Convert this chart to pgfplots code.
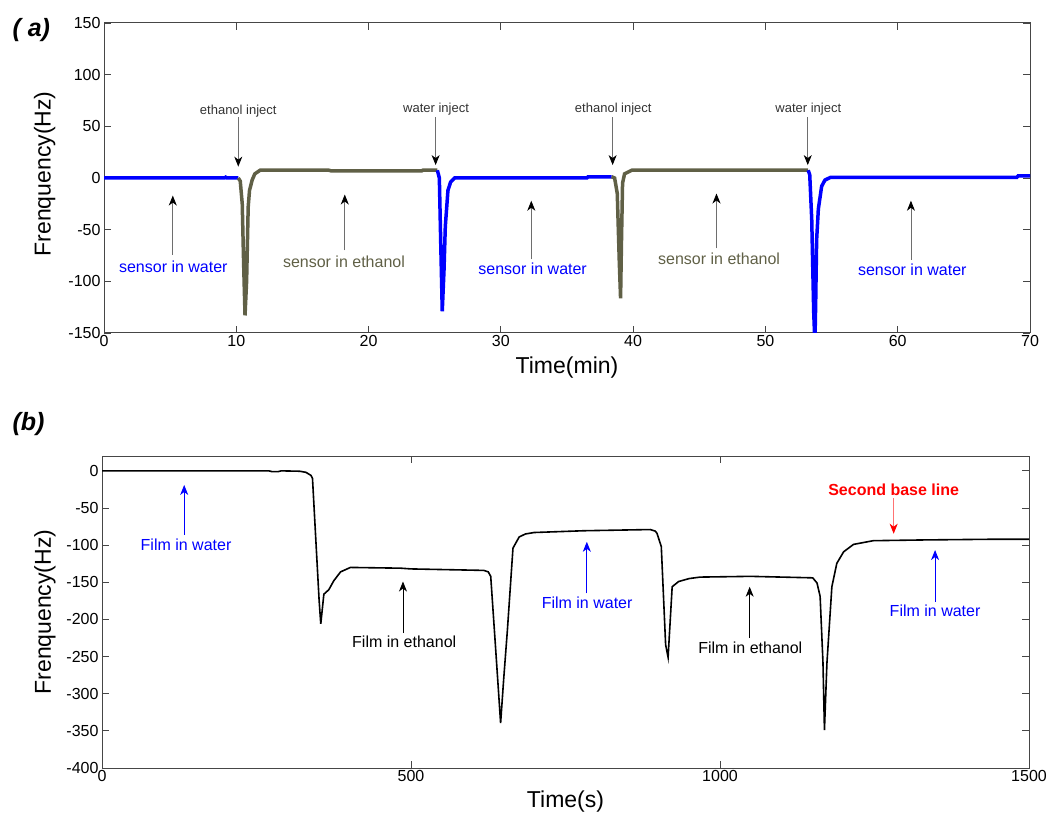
\documentclass[border=0pt]{standalone}
\usepackage{fontspec}
\setmainfont{Liberation Sans}
\usepackage{pgfplots}
\pgfplotsset{compat=1.18}
\usetikzlibrary{arrows.meta}
\definecolor{olivel}{RGB}{96,96,70}
\definecolor{framegray}{RGB}{70,70,70}
\definecolor{arrgray}{RGB}{110,110,110}
\begin{document}
\begin{tikzpicture}
\useasboundingbox (0,0) rectangle (1048pt,817pt);
\pgfplotsset{
  mystyle/.style={
    scale only axis,
    axis line style={framegray, line width=1pt},
    tick style={framegray, line width=0.8pt},
    major tick length=7pt,
    tick align=inside,
    scaled ticks=false,
    /pgf/number format/assume math mode=true,
    /pgf/number format/1000 sep={},
    ticklabel style={font=\fontsize{16}{19}\selectfont, text=black},
    label style={font=\fontsize{23}{27}\selectfont},
    xticklabel style={inner sep=2.5pt},
  }
}
\begin{axis}[mystyle, at={(104pt,484pt)}, anchor=south west,
  width=926pt, height=310pt,
  xmin=0, xmax=70, ymin=-150, ymax=150,
  xtick={0,10,...,70}, ytick={-150,-100,...,150},
  xlabel={Time(min)}, ylabel={Frenquency(Hz)},
  xlabel style={at={(axis description cs:0.5,-0.11)}, anchor=center},
  ylabel style={at={(axis description cs:-0.064,0.513)}, anchor=center}]
% water segments
\addplot[blue, line width=3.5pt] coordinates {(0,0) (9.1,0) (9.2,0.8) (9.3,0) (10.15,0)};
\addplot[olivel, line width=3.5pt] coordinates {(10.15,0) (10.3,-3) (10.45,-25) (10.55,-80) (10.66,-133) (10.78,-100) (10.9,-28) (11.0,-12) (11.2,-2) (11.4,4) (11.8,7.5) (17,7.5) (17.2,6.8) (24,6.8) (24.1,7.5) (25.2,7.5)};
\addplot[blue, line width=3.5pt] coordinates {(25.2,7.5) (25.35,0) (25.45,-60) (25.57,-129) (25.7,-90) (25.8,-47) (26.0,-12) (26.2,-4) (26.5,0) (36.5,0) (36.6,1.2) (38.37,1.2)};
\addplot[olivel, line width=3.5pt] coordinates {(38.37,1.2) (38.6,0) (38.8,-15) (38.95,-80) (39.05,-116.5) (39.12,-60) (39.2,-5) (39.35,4) (39.9,7.5) (53.23,7.5)};
\addplot[blue, line width=3.5pt] coordinates {(53.23,7.5) (53.35,3) (53.5,-40) (53.65,-130) (53.74,-160) (53.8,-120) (53.87,-60) (54.0,-30) (54.25,-8) (54.5,-2) (54.9,0.5) (69,0.5) (69.1,2) (70,2)};
% annotations
\tikzset{ann/.style={line width=0.9pt, arrgray, -{Stealth[black, length=10pt, width=8pt, inset=3pt]}}}
\node[font=\fontsize{13}{15}\selectfont, text=black!80] at (axis cs:10.15,65) {ethanol inject};
\draw[ann] (axis cs:10.15,59) -- (axis cs:10.15,11);
\node[font=\fontsize{13}{15}\selectfont, text=black!80] at (axis cs:25.1,66.5) {water inject};
\draw[ann] (axis cs:25.07,59) -- (axis cs:25.07,12.5);
\node[font=\fontsize{13}{15}\selectfont, text=black!80] at (axis cs:38.5,66.5) {ethanol inject};
\draw[ann] (axis cs:38.45,59) -- (axis cs:38.45,12.5);
\node[font=\fontsize{13}{15}\selectfont, text=black!80] at (axis cs:53.24,66.5) {water inject};
\draw[ann] (axis cs:53.2,59) -- (axis cs:53.2,12.5);
\node[font=\fontsize{16}{19}\selectfont, text=blue] at (axis cs:5.24,-86) {sensor in water};
\draw[ann] (axis cs:5.2,-74.5) -- (axis cs:5.2,-17);
\node[font=\fontsize{16}{19}\selectfont, text=olivel] at (axis cs:18.14,-81) {sensor in ethanol};
\draw[ann] (axis cs:18.2,-70) -- (axis cs:18.2,-16);
\node[font=\fontsize{16}{19}\selectfont, text=blue] at (axis cs:32.4,-87.4) {sensor in water};
\draw[ann] (axis cs:32.3,-78.7) -- (axis cs:32.3,-22);
\node[font=\fontsize{16}{19}\selectfont, text=olivel] at (axis cs:46.5,-78) {sensor in ethanol};
\draw[ann] (axis cs:46.3,-68) -- (axis cs:46.3,-15);
\node[font=\fontsize{16}{19}\selectfont, text=blue] at (axis cs:61.1,-89) {sensor in water};
\draw[ann] (axis cs:61.0,-79) -- (axis cs:61.0,-22);
\end{axis}

\begin{axis}[mystyle, at={(102pt,49pt)}, anchor=south west,
  width=927pt, height=312pt,
  xmin=0, xmax=1500, ymin=-400, ymax=20,
  xtick={0,500,1000,1500}, ytick={-400,-350,...,0},
  xlabel={Time(s)}, ylabel={Frenquency(Hz)},
  xlabel style={at={(axis description cs:0.5,-0.108)}, anchor=center},
  ylabel style={at={(axis description cs:-0.0615,0.5)}, anchor=center}]
\addplot[black, line width=1.6pt] coordinates {(0,0) (270,0) (275,-1) (285,-1) (290,0) (320,-0.5) (330,-2) (338,-6) (340.6,-10) (346,-93) (351.3,-174) (354,-206) (359,-166) (367,-160) (375,-148) (386,-136) (402,-130) (483,-131) (500,-132) (618,-134) (625,-136) (629,-142) (637,-240) (645,-339.5) (650,-280) (656,-214) (665,-104) (675,-89) (685,-85) (699,-83) (780,-80.6) (887,-79) (895,-81) (898,-84) (905,-102) (912,-234) (916,-251) (922.6,-156) (933,-149) (950,-145) (968,-143) (1049,-142) (1150,-144) (1157,-151) (1162,-169) (1166.6,-258) (1169,-349) (1173,-259) (1181,-156) (1189,-124.5) (1200,-109) (1216,-99) (1248,-94) (1329,-93) (1448,-92) (1500,-92)};
\tikzset{annb/.style={line width=0.9pt, -{Stealth[length=10pt, width=8pt, inset=3pt]}}}
\node[font=\fontsize{16}{19}\selectfont, text=blue] at (axis cs:136,-100) {Film in water};
\draw[annb, blue] (axis cs:133,-86) -- (axis cs:133,-19);
\node[font=\fontsize{16}{19}\selectfont, text=black] at (axis cs:489,-230.6) {Film in ethanol};
\draw[annb, black] (axis cs:487,-218.5) -- (axis cs:487,-149);
\node[font=\fontsize{16}{19}\selectfont, text=blue] at (axis cs:785,-177) {Film in water};
\draw[annb, blue] (axis cs:784.5,-165) -- (axis cs:784.5,-95.5);
\node[font=\fontsize{16}{19}\selectfont, text=black] at (axis cs:1049,-238.7) {Film in ethanol};
\draw[annb, black] (axis cs:1048,-225) -- (axis cs:1048,-156);
\node[font=\fontsize{16}{19}\selectfont, text=blue] at (axis cs:1348,-188) {Film in water};
\draw[annb, blue] (axis cs:1348,-176) -- (axis cs:1348,-106.6);
\node[font=\bfseries\fontsize{16}{19}\selectfont, text=red] at (axis cs:1281,-25) {Second base line};
\draw[line width=0.9pt, red!55, -{Stealth[red, length=10pt, width=8pt, inset=3pt]}] (axis cs:1281,-37) -- (axis cs:1281,-84.6);
\end{axis}

\node[font=\bfseries\itshape\fontsize{25}{29}\selectfont, anchor=west] at (9pt,787pt) {( a)};
\node[font=\bfseries\itshape\fontsize{25}{29}\selectfont, anchor=west] at (9pt,393pt) {(b)};
\end{tikzpicture}
\end{document}
